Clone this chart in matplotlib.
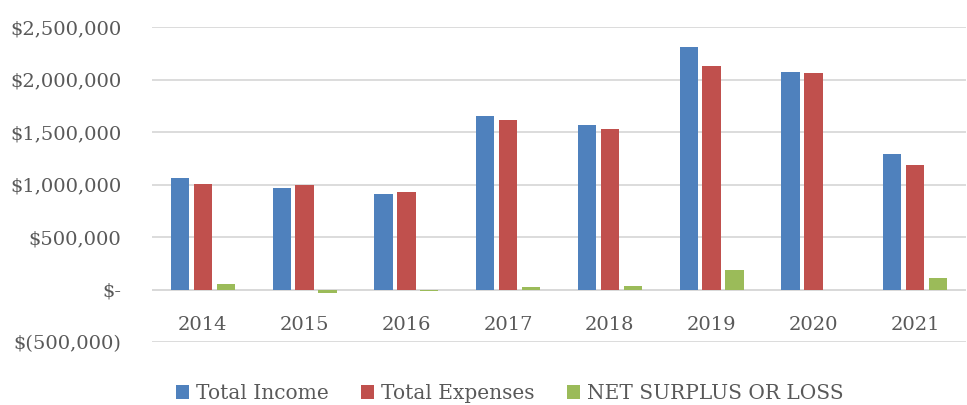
import matplotlib.pyplot as plt
import numpy as np
from matplotlib.ticker import FuncFormatter

# データ
years = ['2014', '2015', '2016', '2017', '2018', '2019', '2020', '2021']
total_income = [1060000, 962000, 914000, 1650000, 1562000, 2314000, 2067000, 1286000]
total_expenses = [1005000, 997000, 924000, 1610000, 1524000, 2130000, 2060000, 1181000]
net_surplus = [54000, -35000, -10000, 28000, 38000, 184000, 0, 114000]

series_names = ['Total Income', 'Total Expenses', 'NET SURPLUS OR LOSS']
colors = ['#4F81BD', '#C0504D', '#9BBB59']
text_color = '#595959'

plt.rcParams['font.family'] = ['DejaVu Serif']

fig = plt.figure(figsize=(9.67, 4.05), dpi=100)
ax = fig.add_axes([152 / 967, 1 - 342 / 405, (966 - 152) / 967, (342 - 27) / 405])

x = np.arange(len(years))
step = 0.225
width = 0.18
for i, (vals, name, c) in enumerate(zip([total_income, total_expenses, net_surplus], series_names, colors)):
    ax.bar(x + (i - 1) * step, vals, width, color=c, label=name, zorder=3)

ax.set_xlim(-0.5, len(years) - 0.5)
ax.set_ylim(-500000, 2500000)
ax.set_yticks(np.arange(-500000, 2500001, 500000))


def money(v, pos):
    if v == 0:
        return '$-'
    if v < 0:
        return '$({:,.0f})'.format(-v)
    return '${:,.0f}'.format(v)


ax.yaxis.set_major_formatter(FuncFormatter(money))
ax.grid(axis='y', color='#D9D9D9', linewidth=1.3, zorder=0)
ax.axhline(0, color='#D9D9D9', linewidth=1.3, zorder=2)

for s in ax.spines.values():
    s.set_visible(False)

# x軸はゼロの位置に
ax.spines['bottom'].set_position(('data', 0))
ax.set_xticks(x)
ax.set_xticklabels(years)
ax.tick_params(axis='x', length=0, pad=19, labelsize=14, labelcolor=text_color)
ax.tick_params(axis='y', length=0, pad=22, labelsize=14, labelcolor=text_color)

fig.legend(loc='lower center', bbox_to_anchor=(0.527, -0.04), ncol=3, frameon=False,
           handlelength=0.65, handleheight=0.65, handletextpad=0.35, columnspacing=1.6,
           fontsize=14.5, labelcolor=text_color)

fig.savefig('out.png', dpi=100)
